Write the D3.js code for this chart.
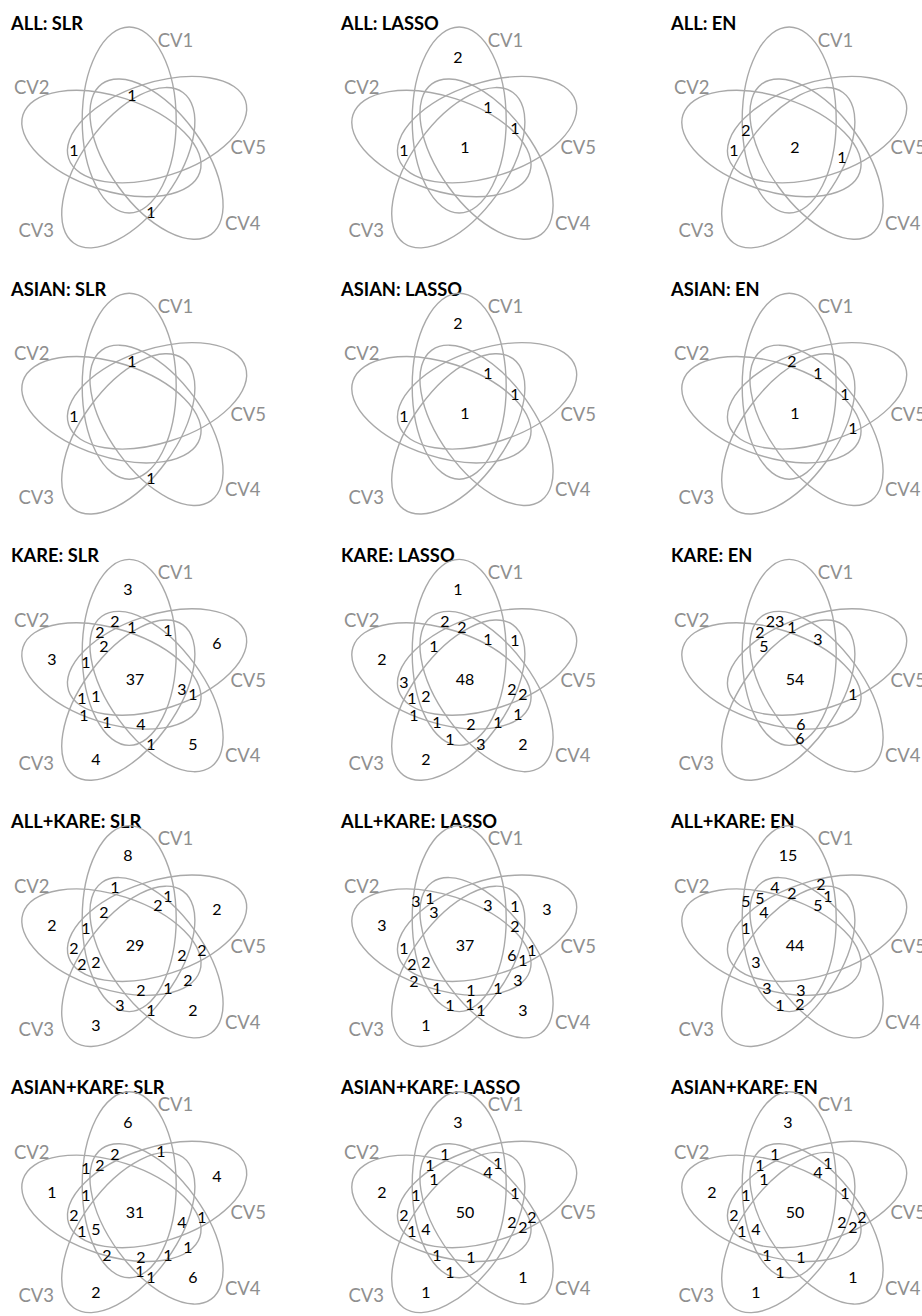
<!DOCTYPE html>
<html>
<head>
<meta charset="utf-8">
<script src="https://cdn.jsdelivr.net/npm/d3@7"></script>
<style>
  body { margin: 0; background: #fff; }
  svg { display: block; }
</style>
</head>
<body>
<svg id="chart" width="922" height="1316"></svg>
<script>
// Five-fold cross-validation overlap of selected features, per cohort and method.
const cohorts = ["ALL", "ASIAN", "KARE", "ALL+KARE", "ASIAN+KARE"];
const methods = ["SLR", "LASSO", "EN"];
const folds = ["CV1", "CV2", "CV3", "CV4", "CV5"];

// Region key = membership in CV1..CV5 (e.g. "10011" = CV1, CV4 and CV5 only).
// Empty regions are left out.
const allSLR = [["10011", 1], ["01001", 1], ["00110", 1]];
const allLASSO = [["10000", 2], ["10111", 1], ["00111", 1], ["01001", 1], ["11111", 1]];
const allEN = [["11001", 2], ["01001", 1], ["11111", 2], ["01111", 1]];

const asianSLR = [["10011", 1], ["01001", 1], ["00110", 1]];
const asianLASSO = [["10000", 2], ["10111", 1], ["00111", 1], ["01001", 1], ["11111", 1]];
const asianEN = [["10011", 2], ["10111", 1], ["00111", 1], ["11111", 1], ["01011", 1]];

const kareSLR = [["10000", 3], ["10010", 2], ["10011", 1], ["10101", 1], ["11010", 2],
  ["11011", 2], ["00001", 6], ["01000", 3], ["11001", 1], ["11111", 37], ["01111", 3],
  ["01011", 1], ["01101", 1], ["11101", 1], ["01100", 1], ["11100", 1], ["11110", 4],
  ["00110", 1], ["00010", 5], ["00100", 4]];
const kareLASSO = [["10000", 1], ["10010", 2], ["10011", 2], ["10111", 1], ["00101", 1],
  ["11011", 1], ["01000", 2], ["01001", 3], ["11111", 48], ["01111", 2], ["01011", 2],
  ["01101", 1], ["11101", 2], ["01100", 1], ["11100", 1], ["11110", 2], ["01110", 1],
  ["01010", 1], ["10100", 1], ["00110", 3], ["00010", 2], ["00100", 2]];
const kareEN = [["10010", 23], ["10011", 1], ["11010", 2], ["11011", 5], ["10111", 3],
  ["11111", 54], ["01011", 1], ["11110", 6], ["10110", 6]];

const allKareSLR = [["10000", 8], ["10010", 1], ["10101", 1], ["10111", 2], ["11011", 2],
  ["00001", 2], ["01000", 2], ["11001", 1], ["11111", 29], ["01001", 2], ["01101", 2],
  ["11101", 2], ["01111", 2], ["00011", 2], ["01010", 2], ["01110", 1], ["11110", 2],
  ["10100", 3], ["00110", 1], ["00010", 2], ["00100", 3]];
const allKareLASSO = [["11000", 3], ["11010", 1], ["11011", 3], ["10111", 3], ["00101", 1],
  ["00001", 3], ["01000", 3], ["00111", 2], ["11111", 37], ["01001", 1], ["01111", 6],
  ["00011", 1], ["01011", 1], ["01101", 2], ["11101", 2], ["01100", 2], ["01010", 3],
  ["11100", 1], ["11110", 1], ["01110", 1], ["10100", 1], ["10110", 1], ["00110", 1],
  ["00010", 3], ["00100", 1]];
const allKareEN = [["10000", 15], ["10010", 4], ["10011", 2], ["10001", 2], ["10101", 1],
  ["11000", 5], ["11010", 5], ["10111", 5], ["11011", 4], ["11001", 1], ["11111", 44],
  ["11101", 3], ["11100", 3], ["11110", 3], ["10100", 1], ["10110", 2]];

const asianKareSLR = [["10000", 6], ["10010", 2], ["10001", 1], ["11000", 1], ["11010", 2],
  ["00001", 4], ["01000", 1], ["11001", 1], ["11111", 31], ["01001", 2], ["01101", 1],
  ["11101", 5], ["01111", 4], ["00011", 1], ["01010", 1], ["01110", 1], ["11110", 2],
  ["11100", 2], ["10110", 1], ["00110", 1], ["00010", 6], ["00100", 2]];
const asianKareLASSO = [["10000", 3], ["10010", 1], ["11010", 1], ["11011", 1], ["10111", 4],
  ["10101", 1], ["01000", 2], ["11001", 1], ["11111", 50], ["00111", 1], ["01001", 2],
  ["01101", 1], ["11101", 4], ["01111", 2], ["00011", 2], ["01011", 2], ["11100", 1],
  ["11110", 1], ["10100", 1], ["00100", 1], ["00010", 1]];
const asianKareEN = [["10000", 3], ["10010", 1], ["11010", 1], ["11011", 1], ["10111", 4],
  ["10101", 1], ["01000", 2], ["11001", 1], ["11111", 50], ["00111", 1], ["01001", 2],
  ["01101", 1], ["11101", 4], ["01111", 2], ["00011", 2], ["01011", 2], ["11100", 1],
  ["11110", 1], ["10100", 1], ["00100", 1], ["00010", 1]];

const panelCounts = [
  [allSLR, allLASSO, allEN],
  [asianSLR, asianLASSO, asianEN],
  [kareSLR, kareLASSO, kareEN],
  [allKareSLR, allKareLASSO, allKareEN],
  [asianKareSLR, asianKareLASSO, asianKareEN]
];

// ---- layout (panel-local units) ----
const panelW = 330, panelH = 266.2;
const hub = { x: 136.5, y: 144 };          // rotation centre of the five ellipses
const offset = { x: -7.3, y: -24 };        // CV1 ellipse centre relative to hub
const semiMinor = 47, semiMajor = 93;

// label anchor for each region
const regionAnchor = {
  "10000": [128, 57], "01000": [52, 127], "00100": [96, 227], "00010": [193, 212], "00001": [217, 111],
  "11000": [86, 103], "10100": [120, 207], "10010": [115, 89], "10001": [161, 86],
  "01100": [84, 183], "01010": [188, 182], "01001": [74, 150], "00110": [151, 212],
  "00101": [185, 108], "00011": [202, 152],
  "11100": [107, 190], "11010": [100, 100], "11001": [86, 130], "10110": [140, 206],
  "10101": [168, 98], "10011": [132, 95], "01110": [168, 190], "01101": [82, 166],
  "01011": [193, 162], "00111": [185, 128],
  "11110": [141, 192], "11101": [96, 164], "11011": [104, 114], "10111": [158, 107],
  "01111": [182, 157], "11111": [135, 147]
};
const foldLabelPos = [[175.5, 40], [31.7, 87.5], [36.3, 230.7], [242.7, 223.3], [248.3, 147.8]];

const svg = d3.select("#chart");
const font = "Lato, 'Open Sans', sans-serif";

cohorts.forEach((cohort, r) => {
  methods.forEach((method, c) => {
    const x = d3.scaleLinear().domain([0, panelW]).range([c * panelW, (c + 1) * panelW]);
    const y = d3.scaleLinear().domain([0, panelH]).range([r * panelH, (r + 1) * panelH]);
    const g = svg.append("g");

    // title
    g.append("text")
      .attr("x", x(11)).attr("y", y(29.5))
      .attr("font-family", font).attr("font-weight", 700).attr("font-size", 18.3)
      .attr("fill", "#000")
      .text(`${cohort}: ${method}`);

    // five congruent ellipses, each turned 72° from the previous one
    g.selectAll("ellipse.fold")
      .data(folds)
      .join("ellipse")
      .attr("class", "fold")
      .attr("cx", x(hub.x + offset.x)).attr("cy", y(hub.y + offset.y))
      .attr("rx", semiMinor).attr("ry", semiMajor)
      .attr("transform", (d, i) => `rotate(${-72 * i}, ${x(hub.x)}, ${y(hub.y)})`)
      .attr("fill", "none")
      .attr("stroke", "#a9a9a9")
      .attr("stroke-width", 1.4);

    // fold names
    g.selectAll("text.fold")
      .data(folds)
      .join("text")
      .attr("class", "fold")
      .attr("x", (d, i) => x(foldLabelPos[i][0]))
      .attr("y", (d, i) => y(foldLabelPos[i][1]))
      .attr("dy", "0.36em")
      .attr("text-anchor", "middle")
      .attr("font-family", font).attr("font-size", 18.5)
      .attr("fill", "#8f8f8f")
      .text(d => d);

    // region counts
    g.selectAll("text.count")
      .data(panelCounts[r][c])
      .join("text")
      .attr("class", "count")
      .attr("x", d => x(regionAnchor[d[0]][0]))
      .attr("y", d => y(regionAnchor[d[0]][1]))
      .attr("dy", "0.36em")
      .attr("text-anchor", "middle")
      .attr("font-family", font).attr("font-size", 16)
      .attr("fill", "#000")
      .text(d => d[1]);
  });
});
</script>
</body>
</html>
